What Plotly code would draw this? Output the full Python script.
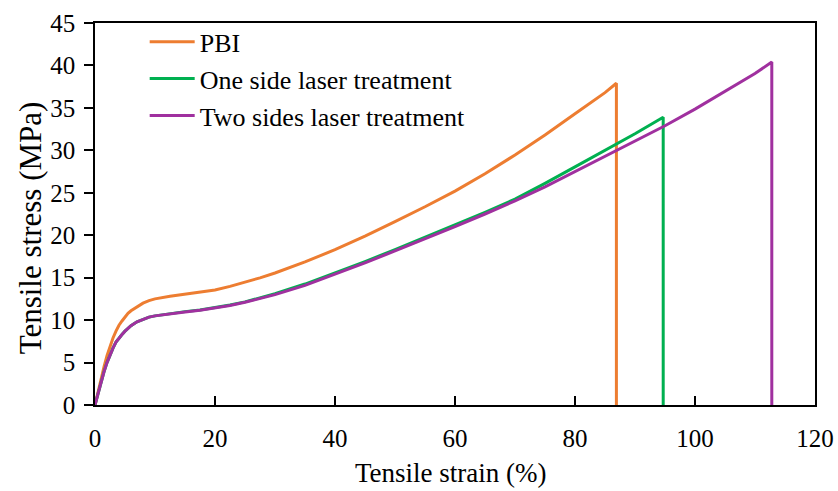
import plotly.graph_objects as go

pbi_x = [0, 0.5, 1, 1.5, 2, 2.5, 3, 3.5, 4, 4.5, 5, 5.5, 6, 7, 7.5, 8, 9, 10, 12.5, 15, 17.5, 20, 22.5, 25, 27.5, 30, 35, 40, 45, 50, 55, 60, 65, 70, 75, 80, 85, 86.9, 86.9]
pbi_y = [0, 1.6, 3.1, 4.5, 5.8, 6.9, 7.9, 8.7, 9.4, 9.9, 10.4, 10.8, 11.1, 11.6, 11.8, 12.0, 12.3, 12.5, 12.8, 13.05, 13.3, 13.55, 13.97, 14.45, 14.98, 15.55, 16.85, 18.3, 19.9, 21.6, 23.35, 25.2, 27.25, 29.45, 31.8, 34.3, 36.8, 37.9, 0]

one_x = [0, 0.5, 1, 1.5, 2, 2.5, 3, 3.5, 4, 4.5, 5, 5.5, 6, 7, 8, 9, 10, 12.5, 15, 17.5, 20, 22.5, 25, 27.5, 30, 35, 40, 45, 50, 55, 60, 65, 70, 75, 80, 85, 90, 94.7, 94.7]
one_y = [0, 1.4, 2.7, 3.9, 5.0, 5.9, 6.7, 7.4, 7.9, 8.3, 8.7, 9.05, 9.35, 9.8, 10.1, 10.35, 10.5, 10.78, 11.0, 11.2, 11.45, 11.78, 12.15, 12.6, 13.1, 14.25, 15.55, 16.9, 18.3, 19.75, 21.2, 22.7, 24.25, 26.1, 28.05, 30.0, 31.95, 33.9, 0]

two_x = [0, 0.5, 1, 1.5, 2, 2.5, 3, 3.5, 4, 4.5, 5, 5.5, 6, 7, 8, 9, 10, 12.5, 15, 17.5, 20, 22.5, 25, 27.5, 30, 35, 40, 45, 50, 55, 60, 65, 70, 75, 80, 85, 90, 95, 100, 105, 110, 112.8, 112.8]
two_y = [0, 1.4, 2.7, 3.9, 5.0, 5.9, 6.7, 7.4, 7.9, 8.3, 8.7, 9.05, 9.35, 9.8, 10.1, 10.35, 10.5, 10.75, 10.95, 11.15, 11.4, 11.73, 12.1, 12.53, 13.0, 14.1, 15.4, 16.75, 18.15, 19.55, 21.0, 22.5, 24.05, 25.7, 27.5, 29.3, 31.1, 32.9, 34.85, 36.9, 39.05, 40.4, 0]

names = ["PBI", "One side laser treatment", "Two sides laser treatment"]
colors = ["#ED7D31", "#00B050", "#A0309F"]

x_ticks = [0, 20, 40, 60, 80, 100, 120]
y_ticks = [0, 5, 10, 15, 20, 25, 30, 35, 40, 45]

x_title = "Tensile strain (%)"
y_title = "Tensile stress (MPa)"

FONT = "Liberation Serif, Times New Roman, serif"

fig = go.Figure()
for xs, ys, n, c in zip([pbi_x, one_x, two_x], [pbi_y, one_y, two_y], names, colors):
    fig.add_trace(go.Scatter(x=xs, y=ys, mode="lines", name=n,
                             line=dict(color=c, width=3)))

fig.add_annotation(text=x_title, xref="paper", yref="paper", x=0.495, y=-0.178,
                   xanchor="center", yanchor="middle", showarrow=False,
                   font=dict(family=FONT, size=27, color="black"))
fig.add_annotation(text=y_title, xref="paper", yref="paper", x=-0.09, y=0.463,
                   xanchor="center", yanchor="middle", showarrow=False, textangle=-90,
                   font=dict(family=FONT, size=31, color="black"))

fig.update_layout(
    width=838, height=491,
    margin=dict(l=95, r=23, t=23, b=86),
    paper_bgcolor="white", plot_bgcolor="white",
    font=dict(family=FONT, size=25, color="black"),
    showlegend=True,
    legend=dict(x=0.069, y=1.012, xanchor="left", yanchor="top",
                bgcolor="rgba(0,0,0,0)", font=dict(family=FONT, size=26),
                itemwidth=45, tracegroupgap=0),
    xaxis=dict(range=[0, 120], tickvals=x_ticks, ticks="inside", ticklen=9,
               tickcolor="black", tickwidth=1.5, showline=True, linecolor="black", linewidth=1.5,
               mirror=True, showgrid=False, zeroline=False, automargin=False,
               ticklabelstandoff=10, tickfont=dict(family=FONT, size=25)),
    yaxis=dict(range=[0, 45], tickvals=y_ticks, ticks="outside", ticklen=9,
               tickcolor="black", tickwidth=1.5, showline=True, linecolor="black", linewidth=1.5,
               mirror=True, showgrid=False, zeroline=False, automargin=False,
               ticklabelstandoff=4, tickfont=dict(family=FONT, size=25)),
)

fig.write_html("out.html", config={"displayModeBar": False},
               post_script="document.body.style.margin='0';")
